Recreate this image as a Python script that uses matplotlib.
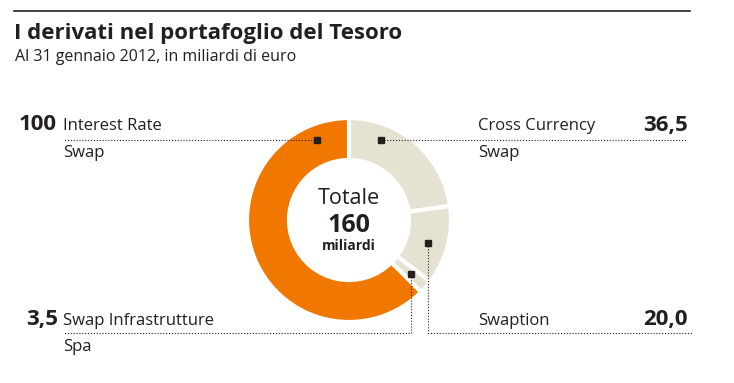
import matplotlib
matplotlib.use("Agg")
import matplotlib.pyplot as plt

# Data (miliardi di euro), clockwise from 12 o'clock
labels = ["Cross Currency\nSwap", "Swaption", "Swap Infrastrutture\nSpa", "Interest Rate\nSwap"]
values = [36.5, 20.0, 3.5, 100.0]
value_text = ["36,5", "20,0", "3,5", "100"]
colors = ["#e6e2d1", "#e6e2d1", "#e6e2d1", "#f07800"]
total_text = "160"

W, H = 734, 383
DARK = "#231f1c"
plt.rcParams["font.family"] = ["Open Sans", "DejaVu Sans"]

fig = plt.figure(figsize=(W / 100, H / 100), dpi=100)
ax = fig.add_axes([0, 0, 1, 1])


def Y(y):
    # pixel row -> data y
    return H - y


# donut
cx, cy, r_out, r_in = 349, Y(220), 102, 60
ax.pie(values, colors=colors, startangle=90, counterclock=False,
       center=(cx, cy), radius=r_out, frame=True,
       wedgeprops=dict(width=r_out - r_in, edgecolor="white", linewidth=3))
ax.set_xlim(0, W)
ax.set_ylim(0, H)
ax.set_aspect("equal")
ax.axis("off")

# header
ax.plot([14, 690], [Y(11), Y(11)], color=DARK, lw=1.2)
ax.text(14, Y(33), "I derivati nel portafoglio del Tesoro", fontsize=16,
        fontweight="bold", color=DARK, va="center", ha="left")
ax.text(15, Y(57), "Al 31 gennaio 2012, in miliardi di euro", fontsize=11.5,
        color=DARK, va="center", ha="left")

# centre text
ax.text(cx, Y(199), "Totale", fontsize=15.5, color=DARK, ha="center", va="center")
ax.text(cx, Y(225), total_text, fontsize=18, fontweight="bold", color=DARK,
        ha="center", va="center")
ax.text(cx, Y(246), "miliardi", fontsize=10, fontweight="bold", color=DARK,
        ha="center", va="center")

dot = dict(color=DARK, lw=0.8, linestyle=(0, (1, 1.6)))
msq = dict(marker="s", markersize=5, color=DARK, linestyle="none")
FS = 12
VS = 16

# Cross Currency Swap (top right)
ax.plot([381, 687], [Y(140), Y(140)], **dot)
ax.plot([381], [Y(140)], **msq)
ax.text(478, Y(126), "Cross Currency", fontsize=FS, color=DARK, ha="left", va="center")
ax.text(478, Y(153), "Swap", fontsize=FS, color=DARK, ha="left", va="center")
ax.text(688, Y(125), value_text[0], fontsize=VS, fontweight="bold", color=DARK,
        ha="right", va="center")

# Swaption (bottom right)
ax.plot([428, 428, 693], [Y(243), Y(333), Y(333)], **dot)
ax.plot([428], [Y(243)], **msq)
ax.text(478, Y(321), labels[1], fontsize=FS, color=DARK, ha="left", va="center")
ax.text(688, Y(320), value_text[1], fontsize=VS, fontweight="bold", color=DARK,
        ha="right", va="center")

# Swap Infrastrutture Spa (bottom left)
ax.plot([411, 411, 64], [Y(274), Y(333), Y(333)], **dot)
ax.plot([411], [Y(274)], **msq)
ax.text(63, Y(321), "Swap Infrastrutture", fontsize=FS, color=DARK, ha="left", va="center")
ax.text(63, Y(347), "Spa", fontsize=FS, color=DARK, ha="left", va="center")
ax.text(58, Y(320), value_text[2], fontsize=VS, fontweight="bold", color=DARK,
        ha="right", va="center")

# Interest Rate Swap (top left)
ax.plot([317, 64], [Y(140), Y(140)], **dot)
ax.plot([317], [Y(140)], **msq)
ax.text(63, Y(126), "Interest Rate", fontsize=FS, color=DARK, ha="left", va="center")
ax.text(63, Y(153), "Swap", fontsize=FS, color=DARK, ha="left", va="center")
ax.text(57, Y(125), value_text[3], fontsize=VS, fontweight="bold", color=DARK,
        ha="right", va="center")

fig.savefig("out.png", dpi=100)
